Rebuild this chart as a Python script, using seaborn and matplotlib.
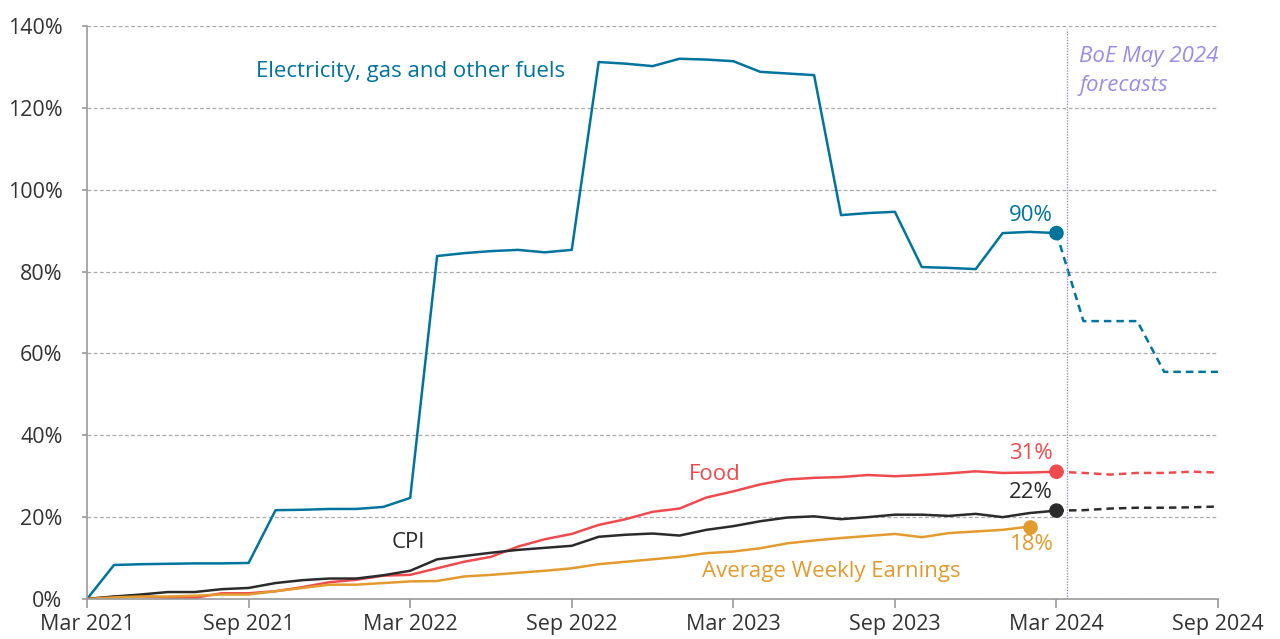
import matplotlib
matplotlib.use('Agg')
import matplotlib.pyplot as plt
import seaborn as sns
import pandas as pd
import numpy as np

# meses de Mar 2021 a Sep 2024
meses = pd.date_range('2021-03-01', '2024-09-01', freq='MS').strftime('%b %Y').tolist()
tick_labels = ['Mar 2021', 'Sep 2021', 'Mar 2022', 'Sep 2022', 'Mar 2023', 'Sep 2023', 'Mar 2024', 'Sep 2024']

# valores observados (Mar 2021 - Mar 2024), % de aumento acumulado
energia = [0, 8.3, 8.5, 8.6, 8.7, 8.7, 8.8, 21.7, 21.8, 22.0, 22.0, 22.5, 24.7,
           83.8, 84.5, 85.0, 85.3, 84.7, 85.3, 131.2, 130.8, 130.2, 132.0, 131.8, 131.4,
           128.8, 128.4, 128.0, 93.8, 94.3, 94.6, 81.1, 80.9, 80.6, 89.4, 89.7, 89.4]
alimentos = [0, 0.6, 0.7, 0.3, 0.3, 1.4, 1.4, 1.9, 2.9, 4.1, 4.7, 5.7, 5.9,
             7.5, 9.1, 10.3, 12.8, 14.6, 15.9, 18.1, 19.5, 21.3, 22.1, 24.8, 26.3,
             28.0, 29.2, 29.6, 29.8, 30.3, 30.0, 30.3, 30.7, 31.2, 30.8, 30.9, 31.1]
cpi = [0, 0.6, 1.1, 1.7, 1.7, 2.4, 2.7, 3.9, 4.6, 5.0, 5.0, 5.8, 6.9,
       9.7, 10.5, 11.3, 12.0, 12.5, 13.0, 15.2, 15.7, 16.0, 15.5, 16.9, 17.8,
       19.0, 19.9, 20.2, 19.5, 20.0, 20.6, 20.6, 20.3, 20.8, 20.0, 21.0, 21.6]
salarios = [0, 0.4, 0.6, 0.6, 0.8, 1.1, 1.1, 1.9, 2.7, 3.5, 3.5, 3.9, 4.3,
            4.4, 5.5, 5.9, 6.4, 6.9, 7.5, 8.5, 9.1, 9.7, 10.3, 11.2, 11.6,
            12.4, 13.6, 14.3, 14.9, 15.4, 15.9, 15.1, 16.1, 16.5, 16.9, 17.7]

# previsões BoE (Mar 2024 - Sep 2024)
energia_prev = [89.4, 67.9, 67.9, 67.9, 55.5, 55.5, 55.5]
alimentos_prev = [31.1, 30.8, 30.4, 30.8, 30.8, 31.1, 30.9]
cpi_prev = [21.6, 21.7, 22.1, 22.3, 22.3, 22.4, 22.6]

azul = '#00749C'
vermelho = '#EF4B4F'
laranja = '#E29B2E'
preto = '#2B2B2B'
roxo = '#9B8DE6'

sns.set_theme(style='white')
plt.rcParams['font.family'] = ['Open Sans', 'DejaVu Sans']

fig = plt.figure(figsize=(12.8, 6.39), dpi=100)
ax = fig.add_axes([0.068, 0.0626, 0.8836, 0.8967])

x_obs = np.arange(len(energia))
x_sal = np.arange(len(salarios))
x_prev = np.arange(len(energia) - 1, len(meses))

lw = 1.8
sns.lineplot(x=x_obs, y=energia, color=azul, lw=lw, ax=ax)
sns.lineplot(x=x_obs, y=alimentos, color=vermelho, lw=lw, ax=ax)
sns.lineplot(x=x_obs, y=cpi, color=preto, lw=lw, ax=ax)
sns.lineplot(x=x_sal, y=salarios, color=laranja, lw=lw, ax=ax)
for serie, cor in [(energia_prev, azul), (alimentos_prev, vermelho), (cpi_prev, preto)]:
    sns.lineplot(x=x_prev, y=serie, color=cor, lw=lw, ax=ax, linestyle=(0, (3, 2)))

# pontos finais
ax.scatter([x_obs[-1]] * 3, [energia[-1], alimentos[-1], cpi[-1]], color=[azul, vermelho, preto], s=90, zorder=5)
ax.scatter([x_sal[-1]], [salarios[-1]], color=laranja, s=90, zorder=5)

fs = 16
ax.text(x_obs[-1] - 0.15, energia[-1] + 1.8, '90%', color=azul, fontsize=fs, ha='right', va='bottom')
ax.text(x_obs[-1] - 0.15, alimentos[-1] + 1.8, '31%', color=vermelho, fontsize=fs, ha='right', va='bottom')
ax.text(x_obs[-1] - 0.15, cpi[-1] + 1.8, '22%', color=preto, fontsize=fs, ha='right', va='bottom')
ax.text(x_sal[-1] + 0.9, salarios[-1] - 1.8, '18%', color=laranja, fontsize=fs, ha='right', va='top')

ax.text(12.0, 128.8, 'Electricity, gas and other fuels', color=azul, fontsize=fs, ha='center', va='center')
ax.text(23.3, 30.3, 'Food', color=vermelho, fontsize=fs, ha='center', va='center')
ax.text(11.95, 13.9, 'CPI', color=preto, fontsize=fs, ha='center', va='center')
ax.text(27.65, 6.8, 'Average Weekly Earnings', color=laranja, fontsize=fs, ha='center', va='center')

# linha das previsões
ax.axvline(36.4, color=roxo, lw=1.0, linestyle=(0, (1, 1)), ymax=0.995)
ax.text(36.85, 135.0, 'BoE May 2024\nforecasts', color=roxo, fontsize=fs, style='italic',
        ha='left', va='top', linespacing=1.5)

ax.set_xlim(0, len(meses) - 1)
ax.set_ylim(0, 140)
ax.set_xticks([meses.index(t) for t in tick_labels])
ax.set_xticklabels(tick_labels)
ax.set_yticks(range(0, 141, 20))
ax.set_yticklabels([f'{v}%' for v in range(0, 141, 20)])
ax.yaxis.grid(True, color='#AAAAAA', linestyle=(0, (3, 2)), lw=0.9)
ax.set_axisbelow(True)

for lado in ['top', 'right']:
    ax.spines[lado].set_visible(False)
for lado in ['left', 'bottom']:
    ax.spines[lado].set_color('#9A9A9A')
    ax.spines[lado].set_linewidth(1.2)
ax.tick_params(axis='x', bottom=True, length=6.5, width=1.2, color='#9A9A9A', labelsize=15.5, labelcolor='#333333', pad=4.5)
ax.tick_params(axis='y', left=True, length=3.6, width=1.2, color='#9A9A9A', labelsize=15.5, labelcolor='#333333', pad=14)
ax.set_xlabel('')
ax.set_ylabel('')

fig.savefig('out.png', dpi=100)
